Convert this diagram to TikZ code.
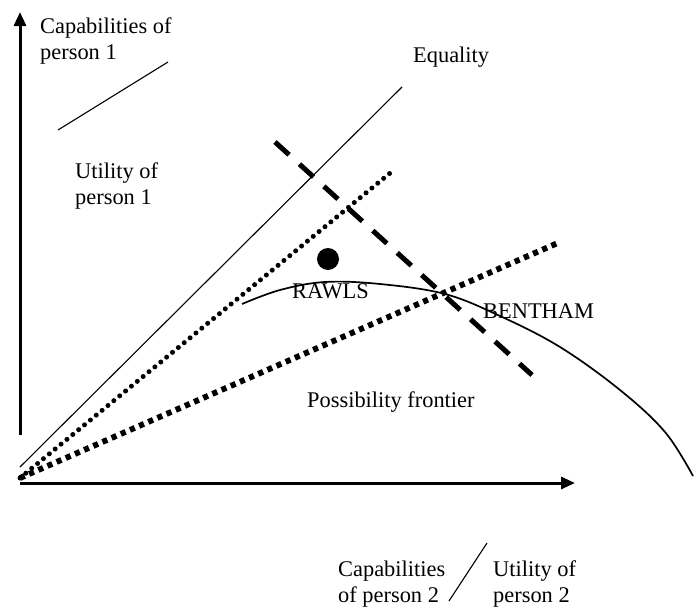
\documentclass[tikz,border=0pt]{standalone}
\usepackage{fontspec}
\setmainfont{Liberation Serif}
\usetikzlibrary{arrows.meta}
\begin{document}
\begin{tikzpicture}[x=1pt,y=-1pt,
  lbl/.style={anchor=north west,inner sep=0pt,align=left,font=\fontsize{22.4}{25.5}\selectfont},
  axisline/.style={line width=3pt,-{Triangle[length=14pt,width=12pt]}},
  eqline/.style={line width=1.1pt},
  rounddots/.style={line width=5pt,line cap=round,dash pattern=on 0pt off 7.6pt},
  squaredots/.style={line width=5.8pt,dash pattern=on 5.2pt off 4.8pt},
  bigdash/.style={line width=5pt,dash pattern=on 19pt off 14pt},
  frontier/.style={line width=1.7pt}
]
\useasboundingbox (0,0) rectangle (694,608);
% coordinates
\coordinate (yb) at (20,435);
\coordinate (yt) at (20,12);
\coordinate (xl) at (20,483);
\coordinate (xr) at (575,483);
\coordinate (O) at (20,478);
\coordinate (eqs) at (20,467);
\coordinate (eqe) at (402,87);
\coordinate (rde) at (395,169);
\coordinate (sde) at (560,242);
\coordinate (ds) at (275,142);
\coordinate (de) at (532,375);
\coordinate (s1a) at (58,130);
\coordinate (s1b) at (168,62);
\coordinate (s2a) at (487,543);
\coordinate (s2b) at (449,601);
% axes
\draw[axisline] (yb) -- (yt);
\draw[axisline] (xl) -- (xr);
% lines
\draw[eqline] (eqs) -- (eqe);
\draw[rounddots] (O) -- (rde);
\draw[squaredots] (O) -- (sde);
\draw[bigdash] (ds) -- (de);
\draw[eqline] (s1a) -- (s1b);
\draw[eqline] (s2a) -- (s2b);
% frontier
\draw[frontier] plot[smooth,tension=0.6] coordinates {(242,304) (280,290) (325,282) (380,284) (445,294) (500,316) (560,347) (620,390) (665,432) (693,476)};
% Rawls point
\fill (328,259) circle (11);
% labels
\node[lbl] (cap1) at (40,18) {Capabilities of\\person 1};
\node[lbl] (ut1) at (75,163) {Utility of\\person 1};
\node[lbl] (eq) at (413,47) {Equality};
\node[lbl] (rawls) at (292,283) {RAWLS};
\node[lbl] (bentham) at (483,304) {BENTHAM};
\node[lbl] (pf) at (307,392) {Possibility frontier};
\node[lbl] (cap2) at (338,561) {Capabilities\\of person 2};
\node[lbl] (ut2) at (493,561) {Utility of\\person 2};
\end{tikzpicture}
\end{document}
